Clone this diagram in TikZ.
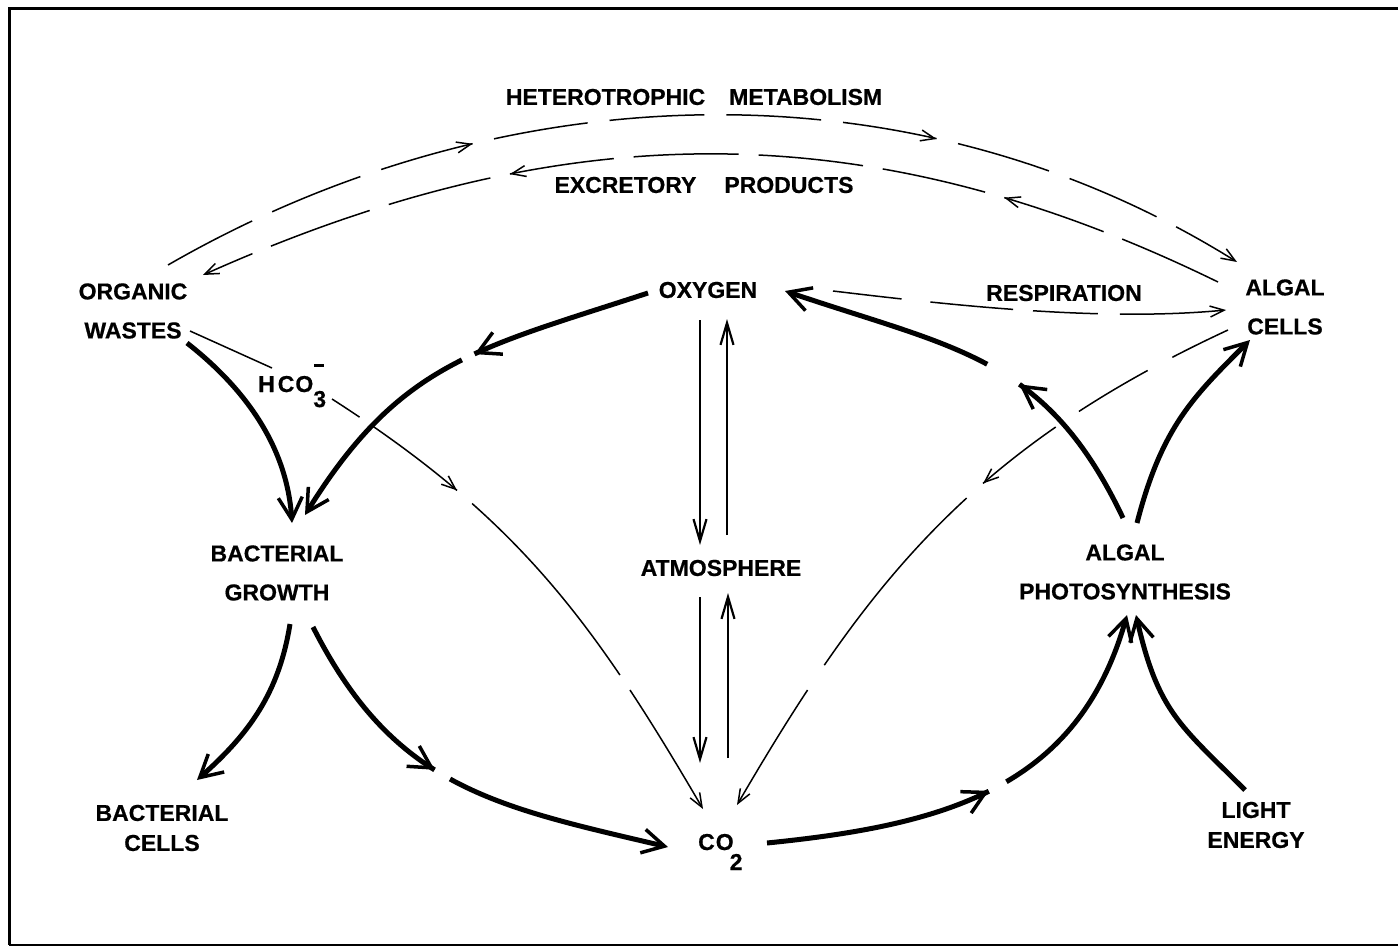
\documentclass[tikz,border=0pt]{standalone}
\usepackage{fontspec}
\setmainfont{Liberation Sans}[BoldFeatures={FakeBold=0.6}]
\usetikzlibrary{arrows.meta,decorations.markings}
\tikzset{
  TipBig/.tip={Straight Barb[length=22pt,width=24pt,line width=3.5pt]},
  TipThin/.tip={Straight Barb[length=14pt,width=11pt,line width=1.5pt]},
  TipMid/.tip={Straight Barb[length=22pt,width=13pt,line width=2.2pt]},
}
\begin{document}
\begin{tikzpicture}[x=1pt,y=-1pt,
  lab/.style={font=\fontsize{23}{39}\selectfont\bfseries, align=center, inner sep=0pt},
  labs/.style={font=\fontsize{23}{30}\selectfont\bfseries, align=center, inner sep=0pt},
  thickline/.style={line width=5pt, -{TipBig}},
  thinline/.style={line width=1.5pt},
  thinarrow/.style={line width=1.5pt, -{TipThin}},
  vline/.style={line width=2.4pt, -{TipMid}},
  frame/.style={line width=3pt},
  midbig/.style={postaction={decorate}, decoration={markings, mark=at position #1 with {\arrow{TipBig}}}},
  midthin/.style={postaction={decorate}, decoration={markings, mark=at position #1 with {\arrow{TipThin}}}},
]
\useasboundingbox (0,0) rectangle (1398,947);
\fill[white] (0,0) rectangle (1398,947);
% frame
\draw[frame] (1398,9) -- (9,9) -- (9,945);
\draw[line width=2pt] (9,945) -- (1398,945);

% labels
\node[lab] (het) at (694,97) {HETEROTROPHIC\hspace{24pt}METABOLISM};
\node[lab] (exc) at (704,185) {EXCRETORY\hspace{28pt}PRODUCTS};
\node[lab] (org) at (133,311) {ORGANIC\\WASTES};
\node[lab] (oxy) at (708,290) {OXYGEN};
\node[lab] (resp) at (1064,293) {RESPIRATION};
\node[lab] (alg) at (1285,307) {ALGAL\\CELLS};
\node[lab, anchor=base west] (hco) at (258,392) {H\hspace{3pt}C\hspace{1pt}O\rlap{\raisebox{25pt}{\hspace{1pt}\rule{10pt}{2.6pt}}}\raisebox{-15pt}{3}};
\node[lab] (bg) at (277,573) {BACTERIAL\\GROWTH};
\node[lab] (atm) at (721,568) {ATMOSPHERE};
\node[lab] (ap) at (1125,572) {ALGAL\\PHOTOSYNTHESIS};
\node[labs] (bc) at (162,828) {BACTERIAL\\CELLS};
\node[labs] (le) at (1256,825) {LIGHT\\ENERGY};
\node[lab, anchor=base west] (co2) at (698,850) {C\hspace{1pt}O\raisebox{-20pt}{\kern-4pt 2}};

% heterotrophic metabolism (organic wastes -> algal cells)
\draw[thinarrow, dash pattern=on 95pt off 22pt, postaction={decorate},
  decoration={markings, mark=at position 329pt with {\arrow{TipThin}}, mark=at position 797pt with {\arrow{TipThin}}}]
  ([shift={(35,-46)}]org.center) .. controls (501,73) and (910,58) .. ([shift={(-48,-45)}]alg.center);
% excretory products (algal cells -> organic wastes)
\draw[thinarrow, dash pattern=on 105pt off 20pt, postaction={decorate},
  decoration={markings, mark=at position 230pt with {\arrow{TipThin}}, mark=at position 730pt with {\arrow{TipThin}}}]
  ([shift={(-67,-25)}]alg.center) .. controls (866,110) and (561,115) .. ([shift={(70,-36)}]org.center);
% respiration (oxygen -> algal cells)
\draw[thinarrow, dash pattern=on 69pt off 29pt on 83pt off 20pt on 65pt off 22pt on 300pt]
  ([shift={(125,1)}]oxy.center) .. controls (950,305) and (1100,322) .. ([shift={(-59,3)}]alg.center);
% algal cells -> CO2
\draw[thinarrow, dash pattern=on 62pt off 28pt on 80pt off 28pt on 92pt off 22pt on 220pt off 30pt on 400pt, midthin=290pt]
  ([shift={(-57,23)}]alg.center) .. controls (974,448) and (868,580) .. ([shift={(39,-45)}]co2.base west);
% organic wastes -> HCO3- -> CO2
\draw[thinline] ([shift={(57,20)}]org.center) -- ([shift={(14,-24)}]hco.base west);
\draw[thinarrow, dash pattern=on 33pt off 17pt on 105pt off 20pt on 227pt off 18pt on 400pt, midthin=155pt]
  ([shift={(74,7)}]hco.base west) .. controls (517,518) and (592,619) .. ([shift={(5,-41)}]co2.base west);
% oxygen <-> atmosphere
\draw[vline] ([shift={(-8,30)}]oxy.center) -- ([shift={(-21,-23)}]atm.center);
\draw[vline] ([shift={(6,-33)}]atm.center) -- ([shift={(19,29)}]oxy.center);
% atmosphere <-> CO2
\draw[vline] ([shift={(-21,29)}]atm.center) -- ([shift={(2,-87)}]co2.base west);
\draw[vline] ([shift={(30,-92)}]co2.base west) -- ([shift={(7,25)}]atm.center);
% organic wastes -> bacterial growth
\draw[thickline] ([shift={(54,32)}]org.center) .. controls (247,390) and (287,448) .. ([shift={(15,-50)}]bg.center);
% oxygen -> bacterial growth
\draw[thickline, dash pattern=on 184pt off 14pt on 2000pt, midbig=184pt]
  ([shift={(-60,3)}]oxy.center) .. controls (477,349) and (400,362) .. ([shift={(28,-58)}]bg.center);
% bacterial growth -> bacterial cells
\draw[thickline] ([shift={(13,51)}]bg.center) .. controls (279,693) and (249,734) .. ([shift={(35,-48)}]bc.center);
% bacterial growth -> CO2
\draw[thickline, dash pattern=on 190pt off 18pt on 2000pt, midbig=190pt]
  ([shift={(36,54)}]bg.center) .. controls (394,787) and (493,806) .. ([shift={(-30,-3)}]co2.base west);
% CO2 -> algal photosynthesis
\draw[thickline, dash pattern=on 229pt off 20pt on 2000pt, midbig=229pt]
  ([shift={(69,-7)}]co2.base west) .. controls (946,825) and (1078,788) .. ([shift={(2,43)}]ap.center);
% light energy -> algal photosynthesis
\draw[thickline] ([shift={(-11,-35)}]le.center) .. controls (1180,725) and (1158,712) .. ([shift={(11,43)}]ap.center);
% algal photosynthesis -> oxygen
\draw[thickline, dash pattern=on 171pt off 38pt on 2000pt, midbig=171pt]
  ([shift={(-2,-54)}]ap.center) .. controls (1046,356) and (956,349) .. ([shift={(77,1)}]oxy.center);
% algal photosynthesis -> algal cells
\draw[thickline] ([shift={(12,-49)}]ap.center) .. controls (1162,426) and (1194,396) .. ([shift={(-35,33)}]alg.center);
\end{tikzpicture}
\end{document}
